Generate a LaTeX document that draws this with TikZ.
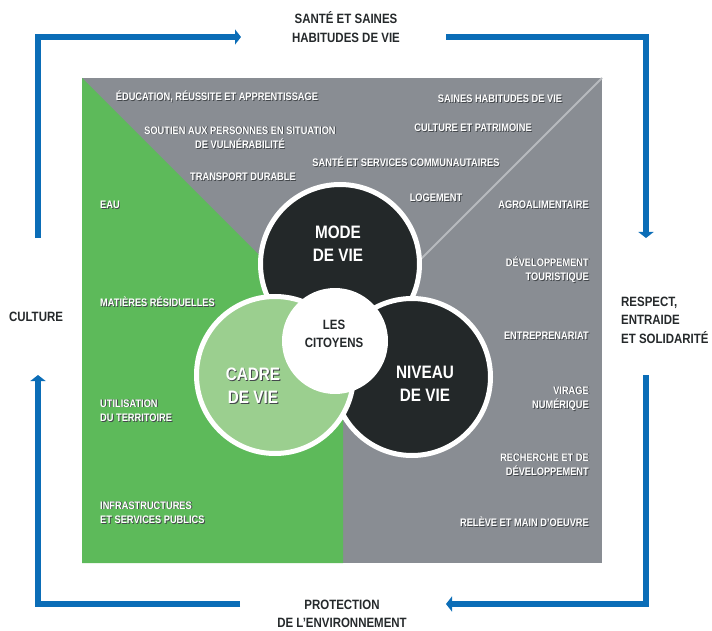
\documentclass[tikz,border=0pt]{standalone}
\usepackage{fontspec}
\setmainfont{Liberation Sans}[FakeStretch=0.85]
\usetikzlibrary{arrows.meta}
\definecolor{panelgray}{HTML}{898D93}
\definecolor{leafgreen}{HTML}{5DBA5A}
\definecolor{softgreen}{HTML}{9BCF8F}
\definecolor{circledark}{HTML}{232829}
\definecolor{inkdark}{HTML}{25292B}
\definecolor{flowblue}{HTML}{0B6DB7}
\definecolor{divline}{HTML}{B7BABE}
\definecolor{shade}{HTML}{44484C}
\def\sh#1{\rlap{\kern.9pt\raisebox{-.9pt}{\color{shade}#1}}#1}
\tikzset{
  theme/.style={text=white, inner sep=0pt, font=\bfseries\fontsize{10.9}{14.5}\selectfont},
  theme left/.style={theme, anchor=west, align=left},
  theme right/.style={theme, anchor=east, align=right},
  theme mid/.style={theme, align=center},
  pillar/.style={text=white, inner sep=0pt, align=center, font=\bfseries\fontsize{18}{23}\selectfont},
  outer/.style={text=inkdark, inner sep=0pt, font=\bfseries\fontsize{13.5}{18.5}\selectfont},
  ring/.style={circle, draw=white, line width=5pt, inner sep=0pt, minimum size=#1},
  flow/.style={draw=flowblue, line width=6.5pt, -{Triangle[length=6pt,width=15pt]}},
}

\begin{document}
\begin{tikzpicture}[x=1pt,y=-1pt]
    \useasboundingbox (0,0) rectangle (712,631);
    %%%%% PANEL %%%%%
    \fill[panelgray] (82,78) rectangle (602,563);
    \fill[leafgreen] (82,78) -- (343,339) -- (343,563) -- (82,563) -- cycle;
    \draw[divline, line width=2pt] (602,78) -- (420,260);

    %%%%% CIRCLES %%%%%
    \node[ring=159pt, fill=circledark] (mode) at (340,264) {};
    \node[ring=157pt, fill=circledark] (niveau) at (412,377) {};
    \node[ring=157pt, fill=softgreen] (cadre) at (275,375) {};
    \node[circle, fill=white, inner sep=0pt, minimum size=106pt] (citoyens) at (335,341) {};

    \node[pillar] (modetxt) at (338,244) {MODE\\DE VIE};
    \node[pillar] (niveautxt) at (425,384) {NIVEAU\\DE VIE};
    \node[pillar] (cadretxt) at (253,386) {\sh{CADRE}\\\sh{DE VIE}};
    \node[text=inkdark, inner sep=0pt, align=center, font=\bfseries\fontsize{13.5}{18}\selectfont]
        (citoyenstxt) at (334,334) {LES\\CITOYENS};

    %%%%% THEMES %%%%%
    \node[theme mid] (education) at (217,97) {\sh{ÉDUCATION, RÉUSSITE ET APPRENTISSAGE}};
    \node[theme mid] (soutien) at (240,138) {\sh{SOUTIEN AUX PERSONNES EN SITUATION}\\\sh{DE VULNÉRABILITÉ}};
    \node[theme mid] (sante) at (406,162) {\sh{SANTÉ ET SERVICES COMMUNAUTAIRES}};
    \node[theme mid] (transport) at (243,177) {\sh{TRANSPORT DURABLE}};
    \node[theme mid] (saines) at (500,99) {\sh{SAINES HABITUDES DE VIE}};
    \node[theme mid] (patrimoine) at (473,128) {\sh{CULTURE ET PATRIMOINE}};
    \node[theme mid] (logement) at (436,198) {\sh{LOGEMENT}};

    \node[theme right] (agro) at (589,205) {\sh{AGROALIMENTAIRE}};
    \node[theme right] (touristique) at (589,270) {\sh{DÉVELOPPEMENT}\\\sh{TOURISTIQUE}};
    \node[theme right] (entrepreneur) at (589,336) {\sh{ENTREPRENARIAT}};
    \node[theme right] (virage) at (589,399) {\sh{VIRAGE}\\\sh{NUMÉRIQUE}};
    \node[theme right] (recherche) at (589,465) {\sh{RECHERCHE ET DE}\\\sh{DÉVELOPPEMENT}};
    \node[theme right] (releve) at (589,522) {\sh{RELÈVE ET MAIN D'OEUVRE}};

    \node[theme left] (eau) at (100,205) {\sh{EAU}};
    \node[theme left] (matieres) at (100,302) {\sh{MATIÈRES RÉSIDUELLES}};
    \node[theme left] (territoire) at (100,411) {\sh{UTILISATION}\\\sh{DU TERRITOIRE}};
    \node[theme left] (infra) at (100,513) {\sh{INFRASTRUCTURES}\\\sh{ET SERVICES PUBLICS}};

    %%%%% OUTER LABELS %%%%%
    \node[outer, align=center] (habitudes) at (346,27) {SANTÉ ET SAINES\\HABITUDES DE VIE};
    \node[outer, align=left, anchor=west] (respect) at (621,320) {RESPECT,\\ENTRAIDE\\ET SOLIDARITÉ};
    \node[outer, align=center] (protection) at (342,614) {PROTECTION\\DE L'ENVIRONNEMENT};
    \node[outer] (culture) at (36,317) {CULTURE};

    %%%%% FLOW %%%%%
    \coordinate (lt) at (38,238);
    \coordinate (ta) at (241,37);
    \coordinate (tb) at (446,37);
    \coordinate (rt) at (646,238);
    \coordinate (rb) at (646,375);
    \coordinate (ba) at (446,604);
    \coordinate (bb) at (240,604);
    \coordinate (lb) at (38,375);
    \draw[flow] (lt) |- (ta);
    \draw[flow] (tb) -| (rt);
    \draw[flow] (rb) |- (ba);
    \draw[flow] (bb) -| (lb);

\end{tikzpicture}
\end{document}
